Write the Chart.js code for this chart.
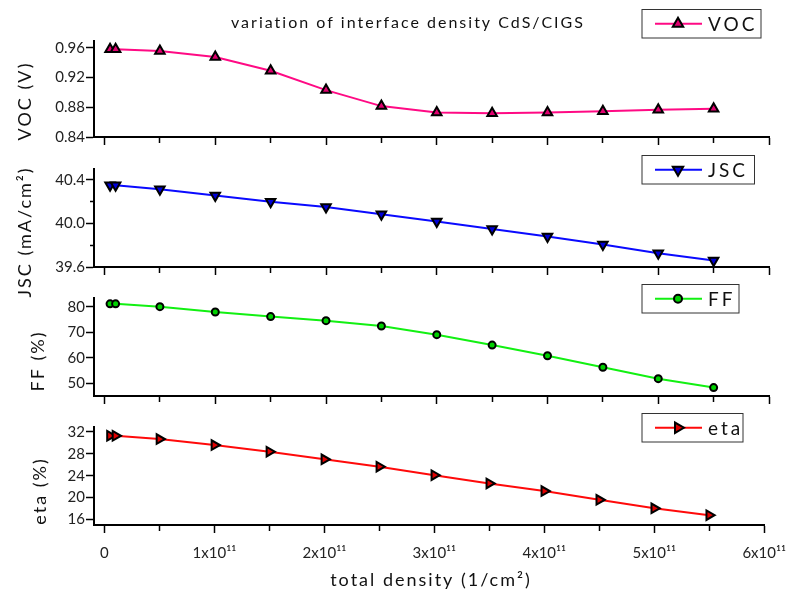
<!DOCTYPE html>
<html>
<head>
<meta charset="utf-8">
<script src="https://cdn.jsdelivr.net/npm/chart.js@4.4.1/dist/chart.umd.min.js"></script>
<style>
  body { margin: 0; background: #fff; }
  #wrap { position: relative; width: 797px; height: 601px; background: #fff; }
  canvas { position: absolute; left: 0; }
  #deco { top: 0; z-index: 2; pointer-events: none; }
</style>
</head>
<body>
<div id="wrap">
  <canvas id="c1" width="797" height="149" style="top:0px"></canvas>
  <canvas id="c2" width="797" height="130" style="top:149px"></canvas>
  <canvas id="c3" width="797" height="129" style="top:279px"></canvas>
  <canvas id="c4" width="797" height="193" style="top:408px"></canvas>
  <canvas id="deco" width="797" height="601"></canvas>
</div>
<script>
// data
const density = [5e9, 1e10, 5e10, 1e11, 1.5e11, 2e11, 2.5e11, 3e11, 3.5e11, 4e11, 4.5e11, 5e11, 5.5e11];
const vocValues = [0.958, 0.958, 0.9555, 0.9475, 0.929, 0.903, 0.8815, 0.873, 0.872, 0.873, 0.8745, 0.8765, 0.878];
const jscValues = [40.351, 40.351, 40.314, 40.256, 40.2, 40.15, 40.085, 40.018, 39.95, 39.88, 39.807, 39.727, 39.66];
const ffValues = [81.2, 81.2, 80.1, 78.0, 76.2, 74.6, 72.5, 69.1, 65.0, 60.8, 56.3, 51.8, 48.3];
const etaValues = [31.3, 31.3, 30.7, 29.6, 28.4, 27.0, 25.65, 24.1, 22.6, 21.2, 19.6, 18.05, 16.8];

// tick labels
const xTicks = [0, 5e10, 1e11, 1.5e11, 2e11, 2.5e11, 3e11, 3.5e11, 4e11, 4.5e11, 5e11, 5.5e11, 6e11];
const xTickLabels = ['0', '', '1x10¹¹', '', '2x10¹¹', '', '3x10¹¹', '', '4x10¹¹', '', '5x10¹¹', '', '6x10¹¹'];
const vocTicks = [0.84, 0.88, 0.92, 0.96];
const vocTickLabels = ['0.84', '0.88', '0.92', '0.96'];
const jscTicks = [39.6, 39.8, 40.0, 40.2, 40.4];
const jscTickLabels = ['39.6', '', '40.0', '', '40.4'];
const ffTicks = [50, 60, 70, 80];
const ffTickLabels = ['50', '60', '70', '80'];
const etaTicks = [16, 20, 24, 28, 32];
const etaTickLabels = ['16', '20', '24', '28', '32'];

const FONT = 'Lato';
const X_MIN = -9.5e9, X_MAX = 6e11;

const panels = [
  { id: 'c1', top: 0, padTop: 41, xH: 12, values: vocValues, min: 0.84, max: 0.969,
    ticks: vocTicks, labels: vocTickLabels, name: 'VOC', title: 'VOC (V)', tx: 25, ty: 101,
    line: '#ff0a84', fill: '#e0006f', style: 'triangle', rot: 0, r: 5.5,
    legend: { x: 642, y: 9.5, w: 119, h: 28.5 } },
  { id: 'c2', top: 149, padTop: 20, xH: 12, values: jscValues, min: 39.6, max: 40.5,
    ticks: jscTicks, labels: jscTickLabels, name: 'JSC', title: 'JSC (mA/cm²)', tx: 25, ty: 232,
    line: '#0a0aff', fill: '#0000d8', style: 'triangle', rot: 180, r: 5.5,
    legend: { x: 642, y: 155.5, w: 112.5, h: 28.5 } },
  { id: 'c3', top: 279, padTop: 19, xH: 12, values: ffValues, min: 45, max: 83.5,
    ticks: ffTicks, labels: ffTickLabels, name: 'FF', title: 'FF (%)', tx: 38, ty: 361,
    line: '#12f012', fill: '#00d000', style: 'circle', rot: 0, r: 3.5,
    legend: { x: 642, y: 284.5, w: 97, h: 28.5 } },
  { id: 'c4', top: 408, padTop: 19, xH: 76, values: etaValues, min: 15, max: 32.9,
    ticks: etaTicks, labels: etaTickLabels, name: 'eta', title: 'eta (%)', tx: 40, ty: 491,
    line: '#ff0a0a', fill: '#e00000', style: 'triangle', rot: 90, r: 5.5,
    legend: { x: 642, y: 413.5, w: 101, h: 28.5 }, last: true }
];

function drawMarker(ctx, style, rot, r, x, y) {
  ctx.beginPath();
  if (style === 'circle') {
    ctx.arc(x, y, r, 0, Math.PI * 2);
  } else {
    let a = rot * Math.PI / 180;
    ctx.moveTo(x + Math.sin(a) * r, y - Math.cos(a) * r);
    for (let k = 1; k < 3; k++) {
      a += 2 * Math.PI / 3;
      ctx.lineTo(x + Math.sin(a) * r, y - Math.cos(a) * r);
    }
    ctx.closePath();
  }
  ctx.fill();
  ctx.stroke();
}

function spacedText(ctx, text, x, y, font, spacing) {
  ctx.font = font;
  if ('letterSpacing' in ctx) ctx.letterSpacing = spacing;
  ctx.fillText(text, x, y);
  if ('letterSpacing' in ctx) ctx.letterSpacing = '0px';
}

panels.forEach(p => {
  const ctx = document.getElementById(p.id).getContext('2d');
  new Chart(ctx, {
    type: 'line',
    data: {
      datasets: [{
        label: p.name,
        data: density.map((d, i) => ({ x: d, y: p.values[i] })),
        borderColor: p.line,
        borderWidth: 2,
        backgroundColor: p.fill,
        pointBackgroundColor: p.fill,
        pointBorderColor: '#000',
        pointBorderWidth: 2,
        pointRadius: p.r,
        pointStyle: p.style,
        pointRotation: p.rot,
        tension: 0,
        clip: false
      }]
    },
    options: {
      responsive: false,
      animation: false,
      layout: { padding: { top: p.padTop, right: 28, left: 0, bottom: 0 } },
      plugins: {
        legend: { display: false },
        tooltip: { enabled: false }
      },
      scales: {
        x: {
          type: 'linear',
          min: X_MIN,
          max: X_MAX,
          afterFit: s => { s.height = p.xH; },
          afterBuildTicks: s => { s.ticks = xTicks.map(v => ({ value: v })); },
          grid: {
            drawOnChartArea: false,
            tickLength: 8,
            tickWidth: 1.5,
            tickColor: '#000',
            tickBorderDash: c => (c.index % 2 === 1 ? [5, 100] : [])
          },
          border: { color: '#000', width: 2 },
          ticks: {
            display: !!p.last,
            autoSkip: false,
            maxRotation: 0,
            minRotation: 0,
            padding: 11,
            color: '#222',
            font: { family: FONT, size: 15 },
            callback: (v, i) => xTickLabels[i]
          }
        },
        y: {
          min: p.min,
          max: p.max,
          afterFit: s => { s.width = 94; },
          afterBuildTicks: s => { s.ticks = p.ticks.map(v => ({ value: v })); },
          grid: {
            drawOnChartArea: false,
            tickLength: 8,
            tickWidth: 1.5,
            tickColor: '#000',
            tickBorderDash: c => (p.labels[c.index] === '' ? [0, 4, 4, 100] : [])
          },
          border: { color: '#000', width: 2 },
          ticks: {
            padding: 1,
            color: '#222',
            font: { family: FONT, size: 15 },
            callback: (v, i) => p.labels[i]
          }
        }
      }
    }
  });
});

// titles, y axis names and legend boxes on one overlay
const dc = document.getElementById('deco').getContext('2d');
dc.fillStyle = '#111';
dc.textAlign = 'center';
dc.textBaseline = 'middle';
spacedText(dc, 'variation of interface density CdS/CIGS', 408, 23, '16px ' + FONT, '2px');
spacedText(dc, 'total density (1/cm²)', 431, 580, '18px ' + FONT, '2px');

panels.forEach(p => {
  dc.save();
  dc.fillStyle = '#111';
  dc.textAlign = 'center';
  dc.textBaseline = 'middle';
  dc.translate(p.tx, p.ty);
  dc.rotate(-Math.PI / 2);
  spacedText(dc, p.title, 0, 0, '18px ' + FONT, '2px');
  dc.restore();

  const L = p.legend;
  dc.save();
  dc.strokeStyle = '#333';
  dc.lineWidth = 1;
  dc.strokeRect(L.x, L.y, L.w, L.h);
  const cy = L.y + L.h / 2;
  dc.strokeStyle = p.line;
  dc.lineWidth = 2;
  dc.beginPath();
  dc.moveTo(655, cy);
  dc.lineTo(702, cy);
  dc.stroke();
  dc.fillStyle = p.fill;
  dc.strokeStyle = '#000';
  dc.lineWidth = 2;
  drawMarker(dc, p.style, p.rot, p.style === 'circle' ? 4 : 6, 678, cy);
  dc.fillStyle = '#111';
  dc.textAlign = 'left';
  dc.textBaseline = 'middle';
  spacedText(dc, p.name, 708, cy + 1, '19px ' + FONT, '3px');
  dc.restore();
});
</script>
</body>
</html>
